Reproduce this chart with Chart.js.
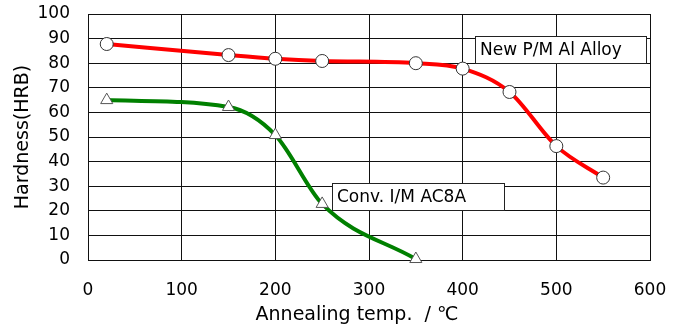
<!DOCTYPE html>
<html>
<head>
<meta charset="utf-8">
<script src="https://cdn.jsdelivr.net/npm/chart.js@4/dist/chart.umd.min.js"></script>
<style>
    html, body { margin: 0; padding: 0; background: #fff; }
    #wrap { width: 681px; height: 326px; }
</style>
</head>
<body>
<div id="wrap"><canvas id="hardnessChart" width="681" height="326"></canvas></div>
<script>
const pmTemps = [20, 150, 200, 250, 350, 400, 450, 500, 550]
const pmHardness = [87.8, 83.3, 81.8, 80.9, 80, 77.8, 68.3, 46.3, 33.5]
const imTemps = [20, 150, 200, 250, 350]
const imHardness = [65, 62.2, 50.8, 22.8, 0.4]
const seriesNames = ["New P/M Al Alloy", "Conv. I/M AC8A"]

const FONT = "'DejaVu Sans', sans-serif"

function toPoints(xs, ys) {
    return xs.map((x, i) => ({ x: x, y: ys[i] }))
}

// fixed axis sizes so the plot area lands where the original has it
function fixSize(prop, value) {
    return function (scale) {
        scale[prop] = value
        scale.paddingTop = 0
        scale.paddingBottom = 0
        scale.paddingLeft = 0
        scale.paddingRight = 0
    }
}

// draws the boxed series names inside the plot
const boxLabels = {
    id: "boxLabels",
    afterDatasetsDraw(chart, args, opts) {
        const ctx = chart.ctx
        const xs = chart.scales.x
        const ys = chart.scales.y
        ctx.save()
        ctx.font = "17px " + FONT
        ctx.textBaseline = "middle"
        for (let b of opts.boxes) {
            const left = Math.round(xs.getPixelForValue(b.x))
            const top = Math.round(ys.getPixelForValue(b.y))
            ctx.fillStyle = "#fff"
            ctx.fillRect(left, top, b.w, b.h)
            ctx.strokeStyle = "#222"
            ctx.lineWidth = 1
            ctx.strokeRect(left + 0.5, top + 0.5, b.w, b.h)
            ctx.fillStyle = "#000"
            ctx.fillText(b.text, left + 5, top + b.h / 2 + 1)
        }
        ctx.restore()
    }
}

new Chart(document.getElementById("hardnessChart"), {
    type: "line",
    data: {
        datasets: [
            {
                label: seriesNames[0],
                data: toPoints(pmTemps, pmHardness),
                borderColor: "#ff0000",
                borderWidth: 4,
                cubicInterpolationMode: "monotone",
                pointStyle: "circle",
                pointRadius: 6.5,
                pointBackgroundColor: "#fff",
                pointBorderColor: "#333",
                pointBorderWidth: 1,
                clip: false
            },
            {
                label: seriesNames[1],
                data: toPoints(imTemps, imHardness),
                borderColor: "#008000",
                borderWidth: 4,
                cubicInterpolationMode: "monotone",
                pointStyle: "triangle",
                pointRadius: 7,
                pointBackgroundColor: "#fff",
                pointBorderColor: "#555",
                pointBorderWidth: 1,
                clip: false
            }
        ]
    },
    options: {
        responsive: false,
        animation: false,
        layout: { padding: { left: 0, right: 31, top: 14, bottom: 0 } },
        plugins: {
            legend: { display: false },
            tooltip: { enabled: false },
            boxLabels: {
                boxes: [
                    { text: seriesNames[0], x: 413, y: 90.9, w: 171, h: 27 },
                    { text: seriesNames[1], x: 260.5, y: 31.3, w: 172, h: 27 }
                ]
            }
        },
        scales: {
            x: {
                type: "linear",
                min: 0,
                max: 600,
                afterFit: fixSize("height", 66),
                ticks: {
                    stepSize: 100,
                    autoSkip: false,
                    maxRotation: 0,
                    padding: 20,
                    color: "#000",
                    font: { family: FONT, size: 17 }
                },
                grid: { color: "#111", drawTicks: false, lineWidth: 1 },
                border: { color: "#111" },
                title: {
                    display: true,
                    //trailing spaces nudge the title a bit left, like the original
                    text: "Annealing temp.  / ℃    ",
                    color: "#000",
                    font: { family: FONT, size: 19 },
                    padding: { top: 2, bottom: 0 }
                }
            },
            y: {
                min: 0,
                max: 100,
                afterFit: fixSize("width", 88),
                ticks: {
                    stepSize: 10,
                    autoSkip: false,
                    padding: 18,
                    color: "#000",
                    font: { family: FONT, size: 17 }
                },
                grid: { color: "#111", drawTicks: false, lineWidth: 1 },
                border: { color: "#111" },
                title: {
                    display: true,
                    text: "Hardness(HRB)",
                    color: "#000",
                    font: { family: FONT, size: 19 },
                    padding: { top: 12, bottom: 4 }
                }
            }
        }
    },
    plugins: [boxLabels]
})
</script>
</body>
</html>
